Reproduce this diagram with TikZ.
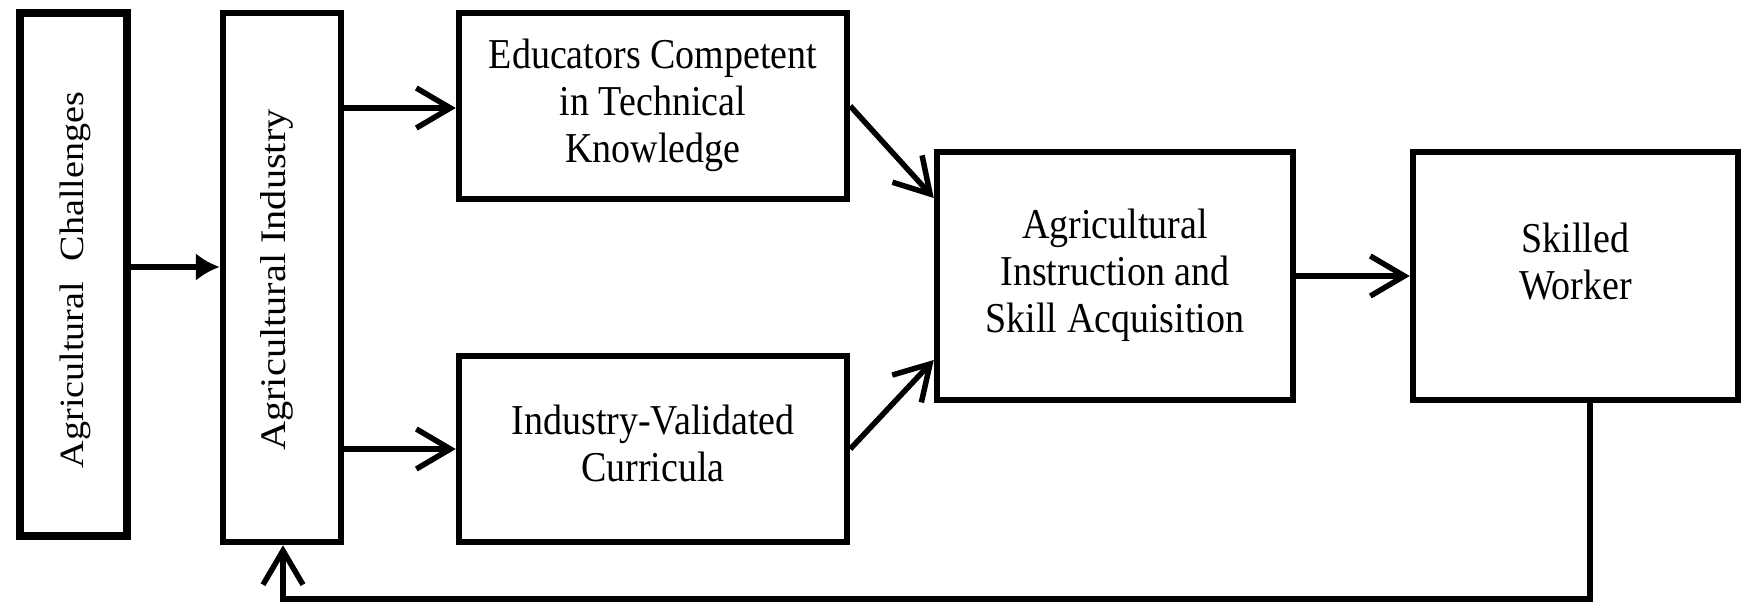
\documentclass[tikz,border=0pt]{standalone}
\usepackage{fontspec}
\usepackage{graphicx}
\setmainfont{Liberation Serif}
\usetikzlibrary{arrows.meta,calc}
\newcommand{\tallstack}[1]{\scalebox{1}[1.12]{\fontsize{38}{42}\selectfont\begin{tabular}{@{}c@{}}#1\end{tabular}}}
\newcommand{\tallside}[2]{\scalebox{1.12}[1]{\fontsize{#1}{42}\selectfont #2}}
\begin{document}
\begin{tikzpicture}[x=1pt,y=-1pt,
  box/.style={draw=black,line width=6.5pt,rectangle,inner sep=0pt},
  txt/.style={inner sep=0pt,align=center},
  conn/.style={line width=5.5pt,-{Straight Barb[length=34pt,width=40pt,line width=5.5pt]}},
  fbconn/.style={line width=5.5pt,-{Straight Barb[length=34pt,width=40pt,line width=5.5pt]}},
  solidconn/.style={line width=6pt,-{Latex[length=24pt,width=28pt]}}
]
\useasboundingbox[fill=white] (0,0) rectangle (1743,603);
% boxes
\node[box,line width=7.5pt,minimum width=107pt,minimum height=523pt] (c1) at (73.5,274.5) {};
\node[txt,rotate=90] (t1) at (75,280) {\tallside{34}{Agricultural\hspace{0.3em} Challenges}};
\node[box,minimum width=118pt,minimum height=529pt] (c2) at (282,277.5) {};
\node[txt,rotate=90] (t2) at (277,280) {\tallside{36}{Agricultural Industry}};
\node[box,minimum width=388pt,minimum height=186pt] (c3) at (653,106)
  {\tallstack{Educators Competent\\in Technical\\Knowledge}};
\node[box,minimum width=388pt,minimum height=186pt] (c4) at (653,449)
  {\tallstack{Industry-Validated\\Curricula}};
\node[box,minimum width=356pt,minimum height=248pt] (c5) at (1115,276)
  {\tallstack{Agricultural\\Instruction and\\Skill Acquisition}};
\node[box,minimum width=325pt,minimum height=248pt] (c6) at (1575.5,276) {};
\node[txt] (t6) at (1575.5,267) {\tallstack{Skilled\\Worker}};
% connectors
\coordinate (ya) at (0,267);
\coordinate (yb) at (0,108);
\draw[solidconn] (c1.east |- ya) -- (c2.west |- ya);
\draw[conn] (c2.east |- yb) -- (c3.west |- yb);
\draw[conn] (c2.east |- c4.west) -- (c4.west);
\draw[conn] (c3.east) -- ($(c5.west)+(0,-78)$);
\draw[conn] (c4.east) -- ($(c5.west)+(0,84)$);
\draw[conn] (c5.east) -- (c6.west);
\coordinate (fb1) at (1590,599);
\coordinate (fb2) at (283,599);
\draw[fbconn] (c6.south -| fb1) -- (fb1) -- (fb2) -- (c2.south -| fb2);
\end{tikzpicture}
\end{document}
